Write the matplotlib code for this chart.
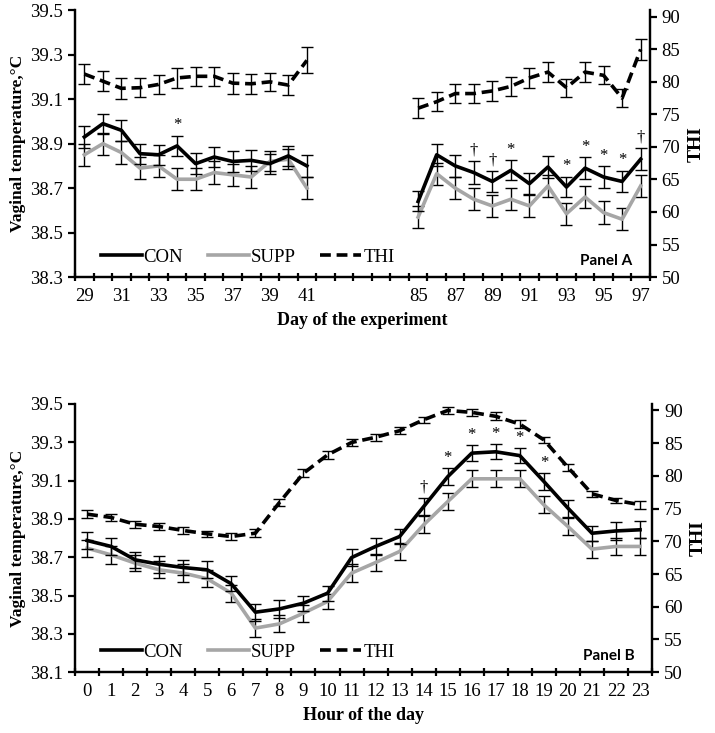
import numpy as np
import matplotlib
matplotlib.use('Agg')
import matplotlib.pyplot as plt
from matplotlib.lines import Line2D

# ---- Panel A: day of the experiment ----
days_a = [29, 30, 31, 32, 33, 34, 35, 36, 37, 38, 39, 40, 41,
          85, 86, 87, 88, 89, 90, 91, 92, 93, 94, 95, 96, 97]
con_a = [38.93, 38.99, 38.96, 38.855, 38.85, 38.89, 38.81, 38.84, 38.82, 38.825, 38.81, 38.845, 38.80,
         38.64, 38.85, 38.80, 38.77, 38.73, 38.78, 38.72, 38.795, 38.705, 38.79, 38.75, 38.73, 38.83]
supp_a = [38.85, 38.90, 38.86, 38.79, 38.80, 38.74, 38.74, 38.77, 38.76, 38.75, 38.82, 38.83, 38.70,
          38.57, 38.765, 38.70, 38.65, 38.62, 38.65, 38.62, 38.71, 38.585, 38.66, 38.59, 38.56, 38.71]
thi_a = [81.2, 80.1, 79.0, 79.1, 79.6, 80.6, 80.85, 80.85, 79.8, 79.7, 80.0, 79.5, 83.3,
         75.95, 76.95, 78.2, 78.2, 78.6, 79.3, 80.6, 81.5, 79.1, 81.5, 81.0, 77.5, 85.0]
con_a_err = [0.048, 0.045, 0.048, 0.045, 0.045, 0.045, 0.048, 0.045, 0.048, 0.048, 0.045, 0.045, 0.048,
             0.045, 0.05, 0.05, 0.05, 0.048, 0.045, 0.048, 0.05, 0.045, 0.048, 0.048, 0.048, 0.05]
supp_a_err = [0.05, 0.05, 0.05, 0.05, 0.05, 0.05, 0.05, 0.05, 0.05, 0.05, 0.045, 0.045, 0.05,
              0.05, 0.05, 0.05, 0.05, 0.05, 0.05, 0.05, 0.05, 0.05, 0.05, 0.05, 0.05, 0.05]
thi_a_err = [1.5, 1.5, 1.6, 1.5, 1.5, 1.6, 1.5, 1.5, 1.6, 1.5, 1.4, 1.5, 2.0,
             1.5, 1.5, 1.5, 1.5, 1.5, 1.5, 1.5, 1.5, 1.4, 1.5, 1.4, 1.4, 1.6]
# category index of each day (blank gap between 41 and 85)
pos_a = list(range(0, 13)) + list(range(18, 31))
marks_a = {34: '*', 88: '†', 89: '†', 90: '*', 93: '*', 94: '*', 95: '*', 96: '*', 97: '†'}

# ---- Panel B: hour of the day ----
hours_b = list(range(24))
con_b = [38.787, 38.756, 38.686, 38.663, 38.646, 38.634, 38.561, 38.413, 38.43, 38.46, 38.512, 38.698,
         38.756, 38.808, 38.964, 39.12, 39.243, 39.25, 39.23, 39.095, 38.956, 38.825, 38.837, 38.843]
supp_b = [38.747, 38.712, 38.669, 38.634, 38.617, 38.587, 38.512, 38.33, 38.352, 38.408, 38.469, 38.617,
          38.672, 38.73, 38.869, 38.99, 39.109, 39.109, 39.109, 38.973, 38.86, 38.742, 38.756, 38.756]
thi_b = [74.15, 73.64, 72.6, 72.26, 71.65, 71.14, 70.73, 71.24, 75.93, 80.4, 83.2, 85.1,
         85.9, 86.9, 88.57, 90.0, 89.7, 89.1, 87.9, 85.5, 81.3, 77.26, 76.24, 75.6]
con_b_err = [0.045, 0.045, 0.04, 0.045, 0.04, 0.045, 0.04, 0.045, 0.045, 0.04, 0.04, 0.045,
             0.045, 0.04, 0.045, 0.045, 0.04, 0.04, 0.04, 0.045, 0.045, 0.04, 0.045, 0.045]
supp_b_err = [0.045, 0.045, 0.04, 0.045, 0.045, 0.045, 0.045, 0.045, 0.045, 0.045, 0.04, 0.045,
              0.045, 0.045, 0.045, 0.045, 0.045, 0.045, 0.045, 0.045, 0.045, 0.045, 0.045, 0.045]
thi_b_err = [0.65, 0.6, 0.55, 0.5, 0.55, 0.5, 0.5, 0.6, 0.6, 0.6, 0.6, 0.55,
             0.55, 0.55, 0.5, 0.6, 0.5, 0.6, 0.6, 0.5, 0.5, 0.5, 0.45, 0.6]
marks_b = {14: '†', 15: '*', 16: '*', 17: '*', 18: '*', 19: '*'}

plt.rcParams['font.family'] = ['Liberation Serif', 'DejaVu Serif']
plt.rcParams['axes.linewidth'] = 1.6

GRAY = '#a6a6a6'


def draw_panel(ax, x, con, supp, thi, con_err, supp_err, thi_err, marks, keys,
               xlim, ylim, yticks, panel, xlabel, ticklabels):
    ax2 = ax.twinx()
    eb = dict(ecolor='black', elinewidth=1.0, capsize=4, capthick=1.0)
    # split into contiguous segments so the gap is left blank
    segs = []
    start = 0
    for i in range(1, len(x) + 1):
        if i == len(x) or x[i] != x[i - 1] + 1:
            segs.append(slice(start, i))
            start = i
    for s in segs:
        xs = np.array(x[s])
        ax.errorbar(xs, np.array(supp[s]), yerr=np.array(supp_err[s]), color=GRAY, lw=2.6, zorder=3, **eb)
        ax.errorbar(xs, np.array(con[s]), yerr=np.array(con_err[s]), color='black', lw=2.6, zorder=4, **eb)
        ax2.errorbar(xs, np.array(thi[s]), yerr=np.array(thi_err[s]), color='black', lw=2.6,
                     dashes=(3, 1.6), zorder=4, **eb)
    for k, sym in marks.items():
        i = keys.index(k)
        ax.text(x[i], con[i] + con_err[i] + 0.012, sym, ha='center', va='bottom', fontsize=12)

    ax.set_xlim(*xlim)
    ax.set_ylim(*ylim)
    ax.set_yticks(yticks)
    ax.set_yticklabels(['%.1f' % v for v in yticks], fontsize=13.5)
    ax2.set_ylim(50, 91)
    ax2.set_yticks(range(50, 91, 5))
    ax2.tick_params(axis='y', labelsize=13.5, width=1.6, length=5, direction='out')
    ax.tick_params(axis='y', width=1.6, length=5, direction='out')

    ax.set_xticks(x if ticklabels is None else ticklabels[0])
    ax.set_xticklabels([str(v) for v in (keys if ticklabels is None else ticklabels[1])], fontsize=13.5)
    ax.tick_params(axis='x', which='major', length=0, pad=8)
    ax.set_xticks(np.arange(xlim[0], xlim[1] + 0.01, 1.0), minor=True)
    ax.tick_params(axis='x', which='minor', length=6, width=1.6, direction='inout')

    for a in (ax, ax2):
        a.spines['top'].set_visible(False)
    ax.set_ylabel('Vaginal temperature,°C', fontsize=12.5, fontweight='bold', labelpad=3)
    ax2.set_ylabel('THI', fontsize=14, fontweight='bold', rotation=90, labelpad=5)
    ax.set_xlabel(xlabel, fontsize=13, fontweight='bold', labelpad=5)

    handles = [Line2D([], [], color='black', lw=2.6),
               Line2D([], [], color=GRAY, lw=2.6),
               Line2D([], [], color='black', lw=2.6, dashes=(3, 1.6))]
    ax.legend(handles, ['CON', 'SUPP', 'THI'], loc='lower left', ncol=3, frameon=False,
              fontsize=13.5, handlelength=2.2, handletextpad=0.1, columnspacing=1.3,
              bbox_to_anchor=(0.015, -0.02))
    ax.text(0.97, 0.035, panel, transform=ax.transAxes, ha='right', va='bottom',
            fontsize=11, fontweight='bold', family=['Lato', 'DejaVu Sans'])
    return ax2


fig = plt.figure(figsize=(7.15, 7.33), dpi=100)
ax_a = fig.add_axes([0.105, 0.622, 0.804, 0.364])
ax_b = fig.add_axes([0.105, 0.083, 0.807, 0.366])

lab_pos = [p for p in pos_a if p % 2 == 0]
lab_txt = [d for p, d in zip(pos_a, days_a) if p % 2 == 0]
draw_panel(ax_a, pos_a, con_a, supp_a, thi_a, con_a_err, supp_a_err, thi_a_err, marks_a, days_a,
           (-0.5, 30.5), (38.3, 39.5), [38.3, 38.5, 38.7, 38.9, 39.1, 39.3, 39.5],
           'Panel A', 'Day of the experiment', (lab_pos, lab_txt))
draw_panel(ax_b, hours_b, con_b, supp_b, thi_b, con_b_err, supp_b_err, thi_b_err, marks_b, hours_b,
           (-0.5, 23.5), (38.1, 39.5), [38.1, 38.3, 38.5, 38.7, 38.9, 39.1, 39.3, 39.5],
           'Panel B', 'Hour of the day', None)

fig.savefig('out.png', dpi=100)
